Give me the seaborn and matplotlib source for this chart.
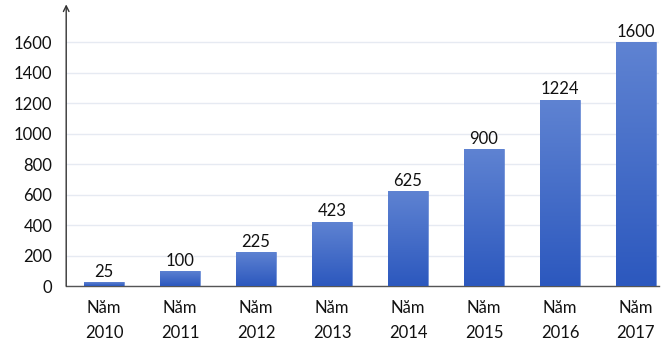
import numpy as np
import matplotlib
matplotlib.use("Agg")
import matplotlib.pyplot as plt
import seaborn as sns
from matplotlib.colors import LinearSegmentedColormap

years = ["2010", "2011", "2012", "2013", "2014", "2015", "2016", "2017"]
values = [25, 100, 225, 423, 625, 900, 1224, 1600]
labels = ["Năm\n" + y for y in years]

sns.set_style("white")
plt.rcParams['font.family'] = ['Lato', 'DejaVu Sans']

fig = plt.figure(figsize=(6.62, 3.43), dpi=100)
ax = fig.add_axes([0.1, 0.166, 0.895, 0.799])

sns.barplot(x=labels, y=values, color="#3d68c8", width=0.52, ax=ax, zorder=2)

# gradient fill clipped to each bar
cmap = LinearSegmentedColormap.from_list("g", ["#2c58be", "#5f83d2"])
grad = np.linspace(0, 1, 256).reshape(-1, 1)
for p in ax.patches:
    x0, y0 = p.get_x(), p.get_y()
    w, h = p.get_width(), p.get_height()
    im = ax.imshow(grad, cmap=cmap, aspect="auto", origin="lower",
                   extent=[x0, x0 + w, y0, y0 + h], zorder=3)
    im.set_clip_path(p)
    p.set_facecolor("none")
    p.set_edgecolor("#5f83d2")
    p.set_linewidth(0.6)

for i, v in enumerate(values):
    ax.text(i, v + 15, str(v), ha="center", va="bottom", fontsize=12, color="#111111", zorder=4)

ax.set_xlim(-0.5, 7.3)
ax.set_ylim(0, 1800)
ax.set_yticks(range(0, 1601, 200))
ax.yaxis.grid(True, color="#e6eaf2", linewidth=1, zorder=0)
ax.set_axisbelow(True)
ax.tick_params(axis="y", labelsize=12, length=0, pad=10, labelcolor="#111111")
ax.tick_params(axis="x", labelsize=12, length=0, pad=10, labelcolor="#111111")
for t in ax.get_xticklabels():
    t.set_linespacing(1.7)

for s in ["top", "right"]:
    ax.spines[s].set_visible(False)
ax.spines["left"].set_visible(False)
ax.spines["bottom"].set_color("#555555")
ax.spines["bottom"].set_linewidth(1)
ax.annotate("", xy=(-0.5, 1850), xytext=(-0.5, 0), xycoords="data",
            arrowprops=dict(arrowstyle="->", color="#333333", lw=1, shrinkA=0, shrinkB=0),
            annotation_clip=False)

fig.savefig("out.png", dpi=100)
